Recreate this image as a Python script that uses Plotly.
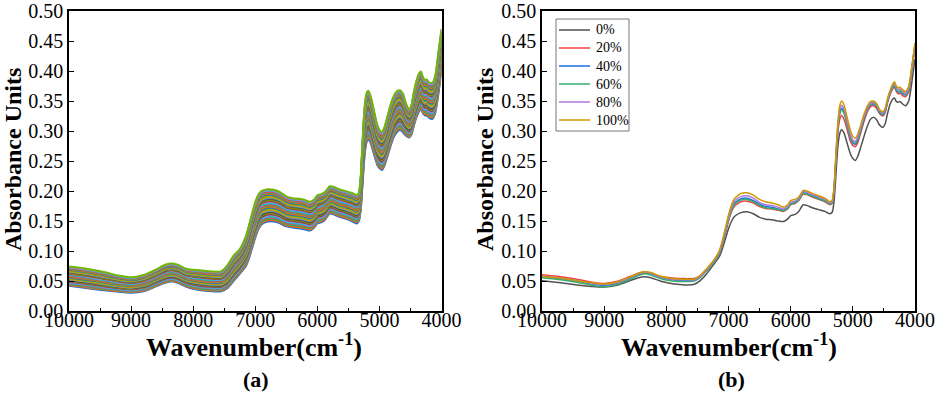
import plotly.graph_objects as go

# ---------------- data ----------------
wavenumber = [10000, 9700, 9400, 9200, 9000, 8800, 8600, 8450, 8350, 8250, 8100, 7900, 7700, 7550,
              7450, 7350, 7250, 7150, 7100, 7050, 7000, 6950, 6900, 6800, 6700, 6600, 6500, 6400,
              6300, 6200, 6120, 6050, 6000, 5930, 5870, 5800, 5740, 5650, 5550, 5450, 5370, 5330,
              5300, 5270, 5240, 5210, 5180, 5140, 5090, 5040, 5000, 4960, 4920, 4870, 4820, 4770,
              4720, 4670, 4620, 4570, 4520, 4480, 4440, 4400, 4360, 4330, 4300, 4270, 4240, 4200,
              4150, 4100, 4050, 4000]

# panel (b): mean spectra per level
level_names = ["0%", "20%", "40%", "60%", "80%", "100%"]
spec_0 = [0.0505, 0.047, 0.043, 0.041, 0.040, 0.043, 0.050, 0.0555, 0.057, 0.0555, 0.050, 0.0455, 0.0435, 0.0445,
          0.051, 0.062, 0.076, 0.090, 0.103, 0.120, 0.137, 0.150, 0.158, 0.164, 0.1655, 0.162, 0.156, 0.153,
          0.152, 0.150, 0.149, 0.153, 0.159, 0.161, 0.166, 0.177, 0.176, 0.172, 0.169, 0.166, 0.162, 0.165,
          0.185, 0.230, 0.275, 0.296, 0.302, 0.296, 0.279, 0.262, 0.254, 0.251, 0.258, 0.274, 0.291, 0.307,
          0.319, 0.323, 0.319, 0.310, 0.306, 0.312, 0.330, 0.345, 0.353, 0.355, 0.349, 0.348, 0.349, 0.345,
          0.342, 0.350, 0.382, 0.420]
spec_20 = [0.0605, 0.057, 0.052, 0.048, 0.046, 0.049, 0.057, 0.063, 0.065, 0.0635, 0.058, 0.055, 0.054, 0.054,
           0.059, 0.069, 0.080, 0.095, 0.110, 0.129, 0.150, 0.166, 0.175, 0.182, 0.183, 0.180, 0.174, 0.171,
           0.170, 0.168, 0.166, 0.170, 0.177, 0.179, 0.184, 0.195, 0.194, 0.190, 0.186, 0.182, 0.177, 0.180,
           0.203, 0.252, 0.298, 0.320, 0.326, 0.319, 0.302, 0.283, 0.276, 0.274, 0.281, 0.298, 0.316, 0.331,
           0.340, 0.342, 0.338, 0.329, 0.325, 0.331, 0.348, 0.361, 0.370, 0.373, 0.366, 0.362, 0.363, 0.359,
           0.357, 0.366, 0.401, 0.440]
spec_40 = [0.0575, 0.054, 0.049, 0.045, 0.043, 0.046, 0.054, 0.061, 0.0635, 0.062, 0.056, 0.052, 0.051, 0.051,
           0.057, 0.068, 0.080, 0.096, 0.112, 0.132, 0.153, 0.170, 0.180, 0.187, 0.188, 0.184, 0.178, 0.174,
           0.173, 0.170, 0.168, 0.172, 0.179, 0.181, 0.186, 0.197, 0.196, 0.192, 0.188, 0.184, 0.179, 0.182,
           0.206, 0.258, 0.306, 0.331, 0.338, 0.331, 0.311, 0.289, 0.280, 0.278, 0.285, 0.302, 0.320, 0.335,
           0.343, 0.345, 0.341, 0.331, 0.327, 0.333, 0.350, 0.363, 0.372, 0.375, 0.368, 0.365, 0.366, 0.362,
           0.360, 0.369, 0.404, 0.443]
spec_60 = [0.0555, 0.052, 0.047, 0.043, 0.0405, 0.044, 0.052, 0.059, 0.062, 0.060, 0.054, 0.050, 0.049, 0.050,
           0.056, 0.067, 0.079, 0.095, 0.111, 0.131, 0.152, 0.168, 0.178, 0.185, 0.186, 0.182, 0.176, 0.172,
           0.171, 0.169, 0.167, 0.171, 0.178, 0.180, 0.185, 0.196, 0.195, 0.191, 0.187, 0.183, 0.178, 0.181,
           0.205, 0.256, 0.303, 0.328, 0.335, 0.329, 0.310, 0.290, 0.282, 0.280, 0.287, 0.304, 0.321, 0.336,
           0.344, 0.346, 0.342, 0.332, 0.328, 0.334, 0.351, 0.364, 0.373, 0.376, 0.369, 0.366, 0.367, 0.363,
           0.361, 0.370, 0.405, 0.444]
spec_80 = [0.0585, 0.055, 0.050, 0.046, 0.044, 0.047, 0.055, 0.062, 0.0645, 0.063, 0.057, 0.053, 0.052, 0.052,
           0.058, 0.069, 0.081, 0.098, 0.114, 0.135, 0.156, 0.173, 0.184, 0.191, 0.192, 0.188, 0.181, 0.177,
           0.176, 0.173, 0.170, 0.174, 0.181, 0.183, 0.188, 0.199, 0.198, 0.194, 0.190, 0.186, 0.180, 0.183,
           0.208, 0.262, 0.311, 0.336, 0.343, 0.336, 0.316, 0.295, 0.285, 0.283, 0.290, 0.307, 0.324, 0.338,
           0.346, 0.348, 0.344, 0.334, 0.330, 0.336, 0.353, 0.366, 0.376, 0.379, 0.372, 0.369, 0.370, 0.366,
           0.363, 0.372, 0.406, 0.445]
spec_100 = [0.058, 0.055, 0.050, 0.047, 0.045, 0.048, 0.056, 0.063, 0.0655, 0.064, 0.058, 0.054, 0.053, 0.053,
            0.060, 0.071, 0.083, 0.100, 0.117, 0.138, 0.160, 0.177, 0.188, 0.196, 0.197, 0.193, 0.186, 0.182,
            0.180, 0.177, 0.173, 0.177, 0.184, 0.186, 0.190, 0.201, 0.200, 0.196, 0.192, 0.188, 0.182, 0.185,
            0.210, 0.265, 0.315, 0.342, 0.350, 0.343, 0.322, 0.301, 0.291, 0.288, 0.295, 0.311, 0.328, 0.341,
            0.349, 0.350, 0.346, 0.336, 0.332, 0.338, 0.355, 0.368, 0.378, 0.382, 0.375, 0.372, 0.373, 0.369,
            0.366, 0.374, 0.408, 0.447]

# panel (a): all sample spectra lie between a lowest and a highest spectrum
raw_low = [0.042, 0.038, 0.034, 0.032, 0.0305, 0.033, 0.041, 0.047, 0.049, 0.047, 0.040, 0.035, 0.033, 0.033,
           0.038, 0.050, 0.062, 0.075, 0.088, 0.105, 0.122, 0.136, 0.144, 0.149, 0.149, 0.146, 0.141, 0.139,
           0.138, 0.136, 0.134, 0.139, 0.146, 0.148, 0.153, 0.163, 0.161, 0.157, 0.154, 0.150, 0.146, 0.150,
           0.170, 0.215, 0.258, 0.280, 0.287, 0.280, 0.262, 0.245, 0.238, 0.235, 0.242, 0.258, 0.275, 0.290,
           0.298, 0.302, 0.298, 0.292, 0.289, 0.295, 0.311, 0.324, 0.333, 0.337, 0.330, 0.326, 0.326, 0.322,
           0.320, 0.330, 0.362, 0.400]
raw_high = [0.074, 0.070, 0.064, 0.059, 0.056, 0.060, 0.069, 0.077, 0.079, 0.077, 0.070, 0.068, 0.066, 0.066,
            0.076, 0.092, 0.103, 0.125, 0.143, 0.163, 0.181, 0.194, 0.200, 0.203, 0.202, 0.198, 0.191, 0.188,
            0.187, 0.185, 0.182, 0.186, 0.193, 0.195, 0.199, 0.208, 0.207, 0.203, 0.200, 0.197, 0.193, 0.197,
            0.225, 0.285, 0.338, 0.362, 0.367, 0.358, 0.335, 0.312, 0.302, 0.298, 0.306, 0.325, 0.344, 0.358,
            0.366, 0.368, 0.362, 0.345, 0.336, 0.345, 0.368, 0.385, 0.396, 0.399, 0.390, 0.385, 0.386, 0.381,
            0.380, 0.392, 0.430, 0.470]
# relative position of each sample spectrum inside that band
sample_levels = [0.00, 0.04, 0.08, 0.12, 0.15, 0.19, 0.22, 0.26, 0.29, 0.33, 0.36, 0.40, 0.43, 0.46,
                 0.50, 0.53, 0.56, 0.60, 0.63, 0.66, 0.70, 0.73, 0.76, 0.80, 0.83, 0.86, 0.89, 0.92,
                 0.95, 0.97, 1.00]

x_ticks = [10000, 9000, 8000, 7000, 6000, 5000, 4000]
x_tick_text = ["10000", "9000", "8000", "7000", "6000", "5000", "4000"]
y_ticks = [0.00, 0.05, 0.10, 0.15, 0.20, 0.25, 0.30, 0.35, 0.40, 0.45, 0.50]

# ---------------- style ----------------
origin_colors = ["#1A6FDF", "#FB6501", "#37AD6B", "#F14040", "#00CBCC", "#B177DE", "#7D4E4E",
                 "#8E8E00", "#515151", "#6699CC", "#CC9900", "#6FB802"]
level_colors = ["#515151", "#F14040", "#1A6FDF", "#37AD6B", "#B177DE", "#CC9900"]
FONT = "Liberation Serif"

fig = go.Figure()

# panel (a)
for i, f in enumerate(sample_levels):
    y = [lo + f * (hi - lo) for lo, hi in zip(raw_low, raw_high)]
    col = origin_colors[i % len(origin_colors)]
    if i == len(sample_levels) - 1:
        col = "#6FB802"
    fig.add_trace(go.Scatter(x=wavenumber, y=y, mode="lines", xaxis="x", yaxis="y",
                             line=dict(color=col, width=2, shape="spline", smoothing=0.5),
                             showlegend=False, hoverinfo="skip"))

# panel (b)
for name, spec, col in zip(level_names, [spec_0, spec_20, spec_40, spec_60, spec_80, spec_100], level_colors):
    fig.add_trace(go.Scatter(x=wavenumber, y=spec, mode="lines", name=name, xaxis="x2", yaxis="y2",
                             showlegend=False,
                             line=dict(color=col, width=1.5, shape="spline", smoothing=0.5)))

W, H = 941, 395
def px(v): return v / W
def py(v): return 1 - v / H

xax = dict(range=[10000, 4000], tickmode="array", tickvals=x_ticks, ticktext=x_tick_text,
           ticks="inside", ticklen=5, tickwidth=1.2,
           tickcolor="black", showline=True, mirror=True, linecolor="black", linewidth=1.5,
           showgrid=False, zeroline=False, tickfont=dict(family=FONT, size=20, color="black"),
           minor=dict(dtick=500, ticks="inside", ticklen=3, tickcolor="black", tickwidth=1),
           ticklabelstandoff=-10, automargin=False)
yax = dict(range=[0, 0.5], tickmode="array", tickvals=y_ticks,
           ticktext=[f"{v:.2f}" for v in y_ticks], ticks="inside", ticklen=5, tickwidth=1.2,
           tickcolor="black", showline=True, mirror=True, linecolor="black", linewidth=1.5,
           showgrid=False, zeroline=False, tickfont=dict(family=FONT, size=20, color="black"),
           automargin=False)

fig.update_layout(
    width=W, height=H, autosize=False,
    margin=dict(l=0, r=0, t=0, b=0, pad=0),
    paper_bgcolor="white", plot_bgcolor="white",
    xaxis=dict(domain=[px(69), px(441.5)], anchor="y", **xax),
    yaxis=dict(domain=[py(311), py(11)], anchor="x", **yax),
    xaxis2=dict(domain=[px(542), px(915)], anchor="y2", **xax),
    yaxis2=dict(domain=[py(311), py(11)], anchor="x2", **yax),
    showlegend=False,
)

# legend of panel (b), drawn as a framed key
shapes = [dict(type="rect", xref="paper", yref="paper", x0=px(556), x1=px(629), y0=py(131), y1=py(19),
               line=dict(color="#777", width=1), fillcolor="white", layer="below")]
annotations = []
key_rows = [30, 48, 66, 84, 102, 120]
for row, name, col in zip(key_rows, level_names, level_colors):
    shapes.append(dict(type="line", xref="paper", yref="paper", x0=px(559), x1=px(590),
                       y0=py(row), y1=py(row), line=dict(color=col, width=1.5)))
    annotations.append(dict(text=name, x=px(594), y=py(row), xref="paper", yref="paper",
                            showarrow=False, xanchor="left", yanchor="middle",
                            font=dict(family=FONT, size=14, color="black")))

for cx in (13, 485):
    annotations.append(dict(text="Absorbance Units", x=px(cx), y=py(160), xref="paper", yref="paper",
                            textangle=-90, showarrow=False, xanchor="center", yanchor="middle",
                            font=dict(family=FONT, size=24, color="black", weight="bold")))
for cx in (254, 729):
    annotations.append(dict(text="Wavenumber(cm<sup>-1</sup>)", x=px(cx), y=py(345), xref="paper",
                            yref="paper", showarrow=False, xanchor="center", yanchor="middle",
                            font=dict(family=FONT, size=26, color="black", weight="bold")))
for cx, lab in ((256, "(a)"), (731, "(b)")):
    annotations.append(dict(text=lab, x=px(cx), y=py(379), xref="paper", yref="paper", showarrow=False,
                            xanchor="center", yanchor="middle",
                            font=dict(family=FONT, size=22, color="black", weight="bold")))
fig.update_layout(shapes=shapes, annotations=annotations)

fig.write_html("out.html", config={"displayModeBar": False},
               post_script="document.body.style.margin='0px';document.body.style.overflow='hidden';")
